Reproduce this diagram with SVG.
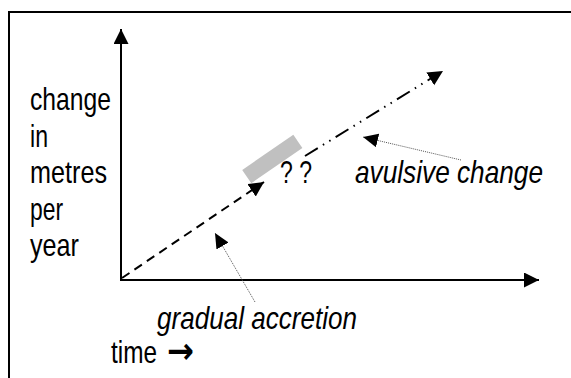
<svg xmlns="http://www.w3.org/2000/svg" width="571" height="378" viewBox="0 0 571 378">
<style>
.lbl{font-family:"Liberation Sans",Arial,sans-serif;font-size:32px;fill:#000}
.it{font-style:italic}
.axis{stroke:#000;stroke-width:2;fill:none}
.main{stroke:#000;stroke-width:2;fill:none}
.ptr{stroke:#555;stroke-width:1;stroke-dasharray:1 1;fill:none}
</style>
<defs>
<marker id="ah" markerUnits="userSpaceOnUse" markerWidth="16" markerHeight="16" refX="15" refY="7.5" orient="auto">
<path d="M0,0 L15,7.5 L0,15 z" fill="#000"/>
</marker>
<marker id="ahs" markerUnits="userSpaceOnUse" markerWidth="16" markerHeight="16" refX="15" refY="7" orient="auto">
<path d="M0,0 L15,7 L0,14 z" fill="#000"/>
</marker>
</defs>
<g id="frame">
<path d="M9,378 L9,12 L571,12" stroke="#000" stroke-width="2" fill="none"/>
</g>
<g id="connectors">
<line class="axis" x1="121" y1="281" x2="121" y2="29" marker-end="url(#ah)"/>
<line class="axis" x1="120" y1="280" x2="539" y2="280" marker-end="url(#ah)"/>
<line class="main" x1="122" y1="278" x2="264" y2="182" stroke-dasharray="9 6" marker-end="url(#ah)"/>
<line class="main" x1="305" y1="156" x2="443" y2="71" stroke-dasharray="15 6 1.5 6 1.5 6" marker-end="url(#ah)"/>
<line class="ptr" x1="461" y1="160" x2="363" y2="137" marker-end="url(#ahs)"/>
<line class="ptr" x1="255" y1="302" x2="215" y2="233" marker-end="url(#ahs)"/>
</g>
<g id="gray-bar">
<rect x="-31" y="-8" width="62" height="16" fill="#c0c0c0" transform="translate(272.3,159) rotate(-34.5)"/>
</g>
<g id="y-label">
<text class="lbl" x="30" y="110" textLength="81" lengthAdjust="spacingAndGlyphs">change</text>
<text class="lbl" x="30" y="147" textLength="18" lengthAdjust="spacingAndGlyphs">in</text>
<text class="lbl" x="30" y="183" textLength="77" lengthAdjust="spacingAndGlyphs">metres</text>
<text class="lbl" x="30" y="220" textLength="33" lengthAdjust="spacingAndGlyphs">per</text>
<text class="lbl" x="30" y="256" textLength="49" lengthAdjust="spacingAndGlyphs">year</text>
</g>
<g id="x-label">
<text class="lbl" x="111" y="363"><tspan textLength="46" lengthAdjust="spacingAndGlyphs">time</tspan><tspan x="167" font-family="DejaVu Sans" font-size="36" font-weight="bold" textLength="27" lengthAdjust="spacingAndGlyphs">→</tspan></text>
</g>
<g id="question">
<text class="lbl" x="280" y="183" font-size="27" textLength="32" lengthAdjust="spacingAndGlyphs">? ?</text>
</g>
<g id="avulsive">
<text class="lbl it" x="355" y="183" textLength="188" lengthAdjust="spacingAndGlyphs">avulsive change</text>
</g>
<g id="gradual">
<text class="lbl it" x="157" y="329" textLength="200" lengthAdjust="spacingAndGlyphs">gradual accretion</text>
</g>
</svg>
